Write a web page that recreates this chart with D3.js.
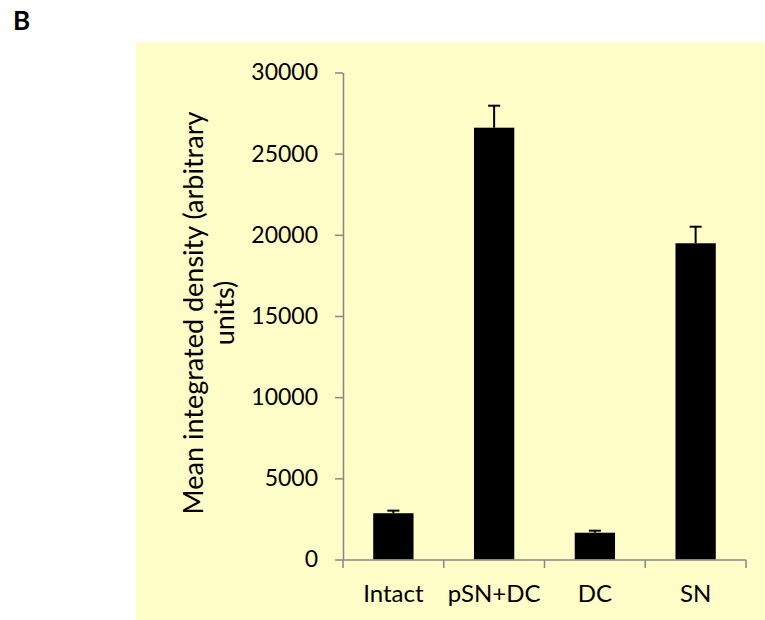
<!DOCTYPE html>
<html>
<head>
<meta charset="utf-8">
<script src="https://cdn.jsdelivr.net/npm/d3@7"></script>
<style>
  html, body { margin: 0; padding: 0; background: #ffffff; }
  svg { display: block; }
  text { font-family: Lato, "Open Sans", sans-serif; fill: #000; }
</style>
</head>
<body>
<svg id="chart" width="765" height="620"></svg>
<script>
// Group names, means and standard errors
const categories = ["Intact", "pSN+DC", "DC", "SN"];
const means = [2850, 26600, 1650, 19480];
const errors = [160, 1355, 125, 1020];
const yTicks = [0, 5000, 10000, 15000, 20000, 25000, 30000];
const yTitleLines = ["Mean integrated density (arbitrary", "units)"];
const panelLabel = "B";

const svg = d3.select("#chart");

// chart-area fill
svg.append("rect")
  .attr("x", 136).attr("y", 42)
  .attr("width", 629).attr("height", 578)
  .attr("fill", "#FFFDC8");

// panel letter
svg.append("text")
  .attr("x", 13).attr("y", 30)
  .attr("font-size", 26).attr("font-weight", 700)
  .text(panelLabel);

const x = d3.scaleBand()
  .domain(categories)
  .range([343, 746])
  .paddingInner(0.6)
  .paddingOuter(0.3);

const y = d3.scaleLinear()
  .domain([0, 30000])
  .range([559.5, 72.5]);

const axisColor = "#878787";

// y axis
const yAxis = svg.append("g")
  .attr("transform", "translate(343,0)")
  .call(d3.axisLeft(y).tickValues(yTicks).tickFormat(d3.format("d")).tickSize(8).tickPadding(17).tickSizeOuter(0));
yAxis.select(".domain").attr("stroke", axisColor).attr("stroke-width", 1.5);
yAxis.selectAll(".tick line").attr("stroke", axisColor).attr("stroke-width", 1.5);
yAxis.selectAll(".tick text")
  .attr("font-size", 23)
  .attr("font-family", "Lato, 'Open Sans', sans-serif")
  .attr("fill", "#000");

// bars
svg.append("g").selectAll("rect")
  .data(categories)
  .join("rect")
  .attr("x", d => x(d))
  .attr("width", x.bandwidth())
  .attr("y", (d, i) => y(means[i]))
  .attr("height", (d, i) => y(0) - y(means[i]))
  .attr("fill", "#000");

// error bars (upper only)
const eb = svg.append("g").attr("stroke", "#000").attr("stroke-width", 2);
categories.forEach((c, i) => {
  const cx = x(c) + x.bandwidth() / 2;
  eb.append("line")
    .attr("x1", cx).attr("x2", cx)
    .attr("y1", y(means[i])).attr("y2", y(means[i] + errors[i]));
  eb.append("line")
    .attr("x1", cx - 6).attr("x2", cx + 6)
    .attr("y1", y(means[i] + errors[i])).attr("y2", y(means[i] + errors[i]));
});

// x axis with ticks between categories
const xAxisG = svg.append("g").attr("transform", "translate(0,560)");
xAxisG.append("line")
  .attr("x1", 343).attr("x2", 746)
  .attr("stroke", axisColor).attr("stroke-width", 1.5);
const step = x.step();
const boundaries = d3.range(categories.length + 1).map(k => 343 + k * step);
xAxisG.selectAll("line.tk")
  .data(boundaries)
  .join("line")
  .attr("class", "tk")
  .attr("x1", d => d).attr("x2", d => d)
  .attr("y1", 0).attr("y2", 8)
  .attr("stroke", axisColor).attr("stroke-width", 1.5);
xAxisG.selectAll("text")
  .data(categories)
  .join("text")
  .attr("x", d => x(d) + x.bandwidth() / 2)
  .attr("y", 42)
  .attr("text-anchor", "middle")
  .attr("font-size", 24)
  .text(d => d);

// y axis title, two lines
const title = svg.append("text")
  .attr("transform", "rotate(-90)")
  .attr("text-anchor", "middle")
  .attr("font-size", 27);
yTitleLines.forEach((t, i) => {
  title.append("tspan")
    .attr("x", -313)
    .attr("y", 203 + i * 31)
    .text(t);
});
</script>
</body>
</html>
